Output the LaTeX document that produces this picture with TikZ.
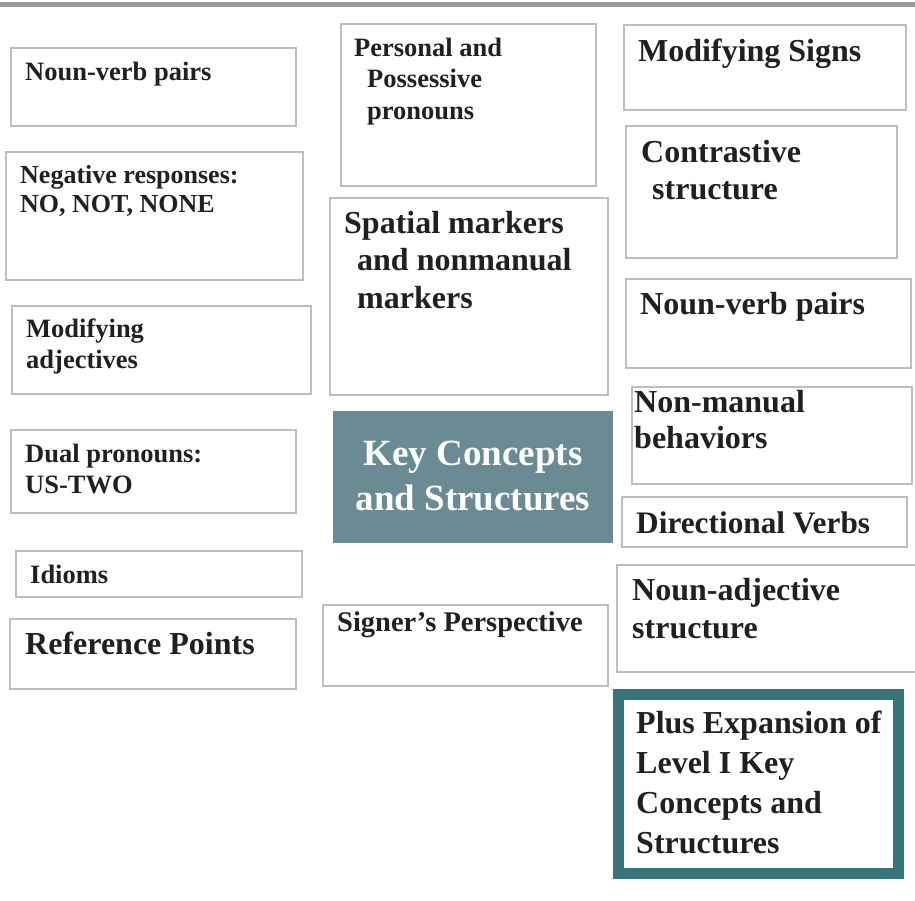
\documentclass[tikz,border=0pt]{standalone}
\usepackage{fontspec}
\setmainfont{Liberation Serif}
\definecolor{boxgray}{HTML}{BCBEC0}
\definecolor{topgray}{HTML}{9B9B9B}
\definecolor{keyfill}{HTML}{6A8B94}
\definecolor{plusteal}{HTML}{3A747B}
\definecolor{ink}{HTML}{231F20}
\begin{document}
\begin{tikzpicture}[x=1pt,y=-1pt,
    frame/.style={draw=boxgray,line width=2.4pt},
    lbl/.style={anchor=base west,inner sep=0pt,text width=290pt,align=flush left,text=ink},
    lblS/.style={lbl,font=\fontsize{26.5}{31.5}\selectfont\bfseries},
    lblL/.style={lbl,font=\fontsize{32}{37.5}\selectfont\bfseries}]
	    \useasboundingbox(0,0)rectangle(915,900);
	    \draw[topgray,line width=5pt](0,4)--(915,4);

	    % left column
	    \draw[frame](11,48)rectangle(296,126);
	    \node[lblS](nvpA)at(25,80){Noun-verb pairs};
	    \draw[frame](6,152)rectangle(303,280);
	    \node[lblS,font=\fontsize{26}{29}\selectfont\bfseries](neg)at(20,183){Negative responses:\\NO, NOT, NONE};
	    \draw[frame](12,306)rectangle(311,394);
	    \node[lblS](modadj)at(26,337){Modifying\\adjectives};
	    \draw[frame](11,430)rectangle(296,513);
	    \node[lblS](dual)at(25,462){Dual pronouns:\\US-TWO};
	    \draw[frame](16,551)rectangle(302,597);
	    \node[lblS](idioms)at(30,583){Idioms};
	    \draw[frame](10,619)rectangle(296,689);
	    \node[lblL](refpts)at(25,654){Reference Points};

	    % middle column
	    \draw[frame](341,24)rectangle(596,186);
	    \node[lblS](pers)at(354,56){Personal and\\\hspace*{13pt}Possessive\\\hspace*{13pt}pronouns};
	    \draw[frame](330,198)rectangle(608,395);
	    \node[lblL](spatial)at(344,233){Spatial markers\\\hspace*{13pt}and nonmanual\\\hspace*{13pt}markers};
	    \fill[keyfill](333,411)rectangle(613,543);
	    \node[anchor=base,inner sep=0pt,text width=280pt,align=flush center,text=white,font=\fontsize{37}{45}\selectfont\bfseries](key)at(473,465){Key Concepts\\and Structures};
	    \draw[frame](323,605)rectangle(608,686);
	    \node[lblS,font=\fontsize{28.5}{33}\selectfont\bfseries](signer)at(337,631){Signer’s Perspective};

	    % right column
	    \draw[frame](624,25)rectangle(906,110);
	    \node[lblL](modsigns)at(638,61){Modifying Signs};
	    \draw[frame](626,126)rectangle(897,258);
	    \node[lblL,font=\fontsize{32}{37}\selectfont\bfseries](contrast)at(641,162){Contrastive\\\hspace*{11pt}structure};
	    \draw[frame](626,279)rectangle(911,368);
	    \node[lblL](nvpB)at(640,314){Noun-verb pairs};
	    \draw[frame](632,387)rectangle(912,484);
	    \node[lblL,font=\fontsize{32}{36}\selectfont\bfseries](nonman)at(634,412){Non-manual\\behaviors};
	    \draw[frame](622,497)rectangle(907,547);
	    \node[lblL,font=\fontsize{31.3}{36}\selectfont\bfseries](direc)at(636,533){Directional Verbs};
	    \draw[frame](617,565)rectangle(918,672);
	    \node[lblL,font=\fontsize{32}{38}\selectfont\bfseries](nounadj)at(632,600){Noun-adjective\\structure};
	    \draw[plusteal,line width=11pt](618.5,694.5)rectangle(898.5,873.5);
	    \node[lblL,font=\fontsize{32}{40}\selectfont\bfseries](plus)at(636,733){Plus Expansion of\\Level I Key\\Concepts and\\Structures};
  	\end{tikzpicture}
\end{document}
